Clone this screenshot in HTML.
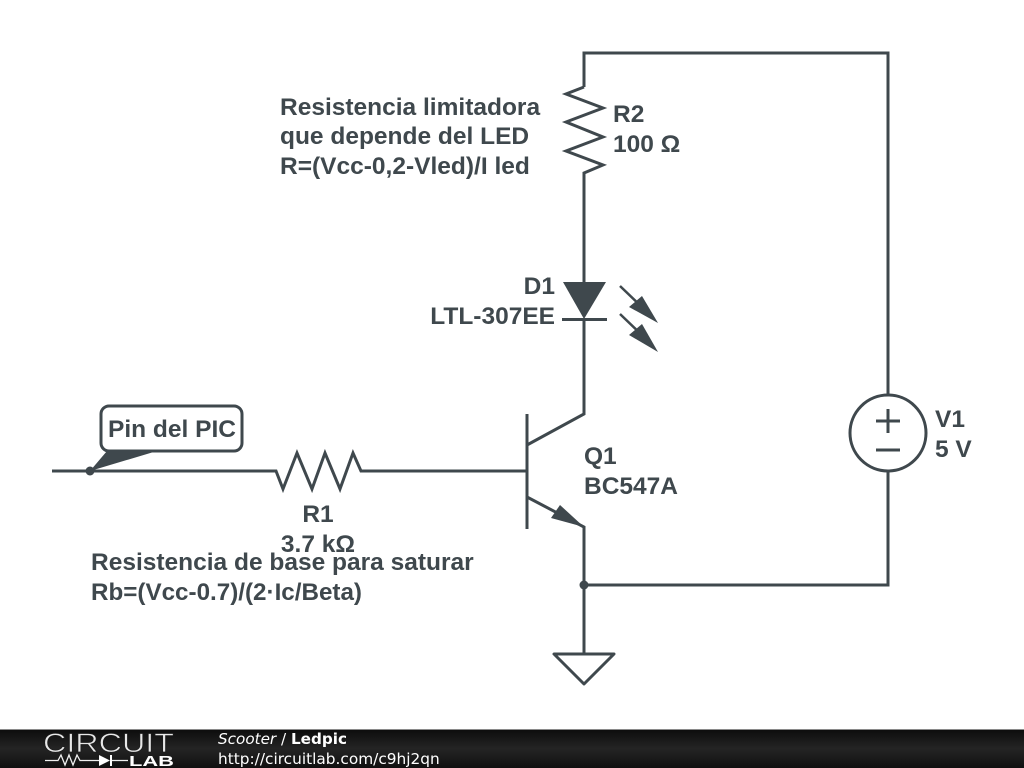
<!DOCTYPE html>
<html>
<head>
<meta charset="utf-8">
<style>
html,body{margin:0;padding:0;background:#fff;width:1024px;height:768px;overflow:hidden}
svg{display:block}
.t{font-family:"Liberation Sans",sans-serif;font-weight:bold;font-size:24.500px;fill:#3f484d}
.w{fill:none;stroke:#3f484d;stroke-width:3;stroke-linejoin:miter}
.f{font-family:"DejaVu Sans",sans-serif;font-size:15.350px;fill:#fff}
</style>
</head>
<body>
<svg width="1024" height="768" viewBox="0 0 1024 768" xmlns="http://www.w3.org/2000/svg">
<defs>
<linearGradient id="g" x1="0" y1="0" x2="0" y2="1">
<stop offset="0" stop-color="#0c0c0c"/><stop offset="0.5" stop-color="#242424"/><stop offset="1" stop-color="#101010"/>
</linearGradient>
</defs>
<rect width="1024" height="768" fill="#fff"/>

<!-- wires -->
<path class="w" d="M584 87V53H888V395"/>
<path class="w" d="M584 87L566 94L603 108L566 122L603 137L566 151L603 165L584 173V282"/>
<path class="w" d="M584 320V414L527 445"/>
<path class="w" d="M527 414V529"/>
<path class="w" d="M527 497L584 527V653"/>
<path class="w" d="M52 471H276L283 489L297 453L312 489L325 453L340 489L353 453L361 471H527"/>
<path class="w" d="M888 472V585H584"/>

<!-- diode -->
<polygon points="563,282 606,282 584,319" fill="#3f484d"/>
<path class="w" d="M562 319.500H607"/>
<path class="w" d="M620 286L645 310" style="stroke-width:2.500"/>
<polygon points="658,323 629,307 642,296" fill="#3f484d"/>
<path class="w" d="M620 314L645 338" style="stroke-width:2.500"/>
<polygon points="658,352 629,335 642,324" fill="#3f484d"/>

<!-- emitter arrow -->
<polygon points="584,527 551,518 560,505" fill="#3f484d"/>

<!-- voltage source -->
<circle cx="888" cy="433" r="38" class="w"/>
<path class="w" d="M876 421H900M888 409V433M876 450H900"/>

<!-- junctions -->
<circle cx="584" cy="585" r="4.500" fill="#3f484d"/>
<circle cx="90" cy="471" r="4.500" fill="#3f484d"/>

<!-- ground -->
<path class="w" d="M554 654H614L584 684Z" style="stroke-linejoin:round"/>

<!-- callout -->
<polygon points="90,471 107,451 157,451" fill="#3f484d"/>
<rect x="101" y="406" width="141" height="45" rx="8" ry="8" fill="#fff" stroke="#3f484d" stroke-width="3"/>
<text class="t" x="108" y="437">Pin del PIC</text>

<!-- labels -->
<text class="t" x="280" y="115">Resistencia limitadora</text>
<text class="t" x="280" y="144">que depende del LED</text>
<text class="t" x="280" y="174">R=(Vcc-0,2-Vled)/I led</text>
<text class="t" x="613" y="122">R2</text>
<text class="t" x="613" y="152">100 Ω</text>
<text class="t" x="555" y="294" text-anchor="end">D1</text>
<text class="t" x="555" y="324" text-anchor="end">LTL-307EE</text>
<text class="t" x="584" y="464">Q1</text>
<text class="t" x="584" y="494">BC547A</text>
<text class="t" x="935" y="427">V1</text>
<text class="t" x="935" y="457">5 V</text>
<text class="t" x="318" y="522" text-anchor="middle">R1</text>
<text class="t" x="318" y="552" text-anchor="middle">3.7 kΩ</text>
<text class="t" x="91" y="570">Resistencia de base para saturar</text>
<text class="t" x="91" y="600" textLength="271" lengthAdjust="spacingAndGlyphs">Rb=(Vcc-0.7)/(2·Ic/Beta)</text>

<!-- footer -->
<rect x="0" y="729" width="1024" height="39" fill="url(#g)"/>
<rect x="0" y="729" width="1024" height="1" fill="#8a8a8a"/>
<text x="43" y="752" font-family="'Liberation Sans',sans-serif" font-size="26.500" fill="#e8e8e8" stroke="#1c1c1c" stroke-width="0.700" textLength="131" lengthAdjust="spacingAndGlyphs">CIRCUIT</text>
<path d="M45 760.500H58L61 755L65 765L69 755L73 765L77 755L80 760.500H99M110 760.500H128" fill="none" stroke="#f0f0f0" stroke-width="1.300"/>
<polygon points="99,755 99,766 110,760.500" fill="#fff"/>
<rect x="110" y="755" width="2" height="11" fill="#fff"/>
<text x="129" y="766" font-family="'Liberation Sans',sans-serif" font-weight="bold" font-size="15" fill="#fff" textLength="45" lengthAdjust="spacingAndGlyphs">LAB</text>
<text class="f" x="218" y="744" textLength="129" lengthAdjust="spacingAndGlyphs"><tspan font-style="italic">Scooter</tspan> / <tspan font-weight="bold">Ledpic</tspan></text>
<text class="f" x="218" y="764">http://circuitlab.com/c9hj2qn</text>
</svg>
</body>
</html>
